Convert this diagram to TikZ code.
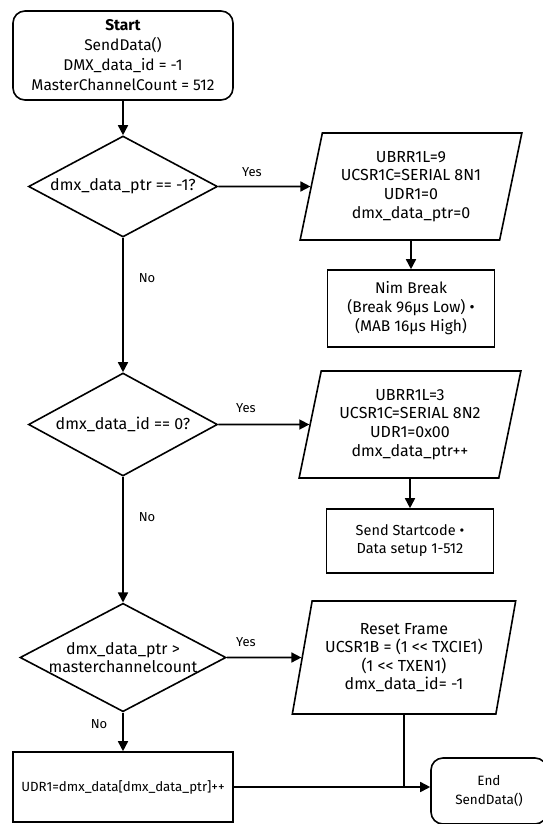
\documentclass[tikz,border=0pt]{standalone}
\usepackage{fontspec}
\setmainfont{Fira Sans}
\usetikzlibrary{shapes.geometric,arrows.meta}
\begin{document}
\begin{tikzpicture}[x=1pt,y=-1pt,
  box/.style={draw, line width=1.6pt, align=center, inner sep=0pt},
  fsz/.style 2 args={font=\fontsize{#1}{#2}\selectfont},
  term/.style={box, rounded corners=12pt},
  dec/.style={box, diamond, aspect=1.9},
  io/.style={box, trapezium, trapezium left angle=76, trapezium right angle=104, trapezium stretches=true},
  arr/.style={line width=1.6pt, -{Triangle[length=10pt,width=10pt]}},
  conn/.style={line width=1.6pt},
  lbl/.style={fsz={13}{16}}]
\useasboundingbox (0,0) rectangle (543,824);
\clip (0,0) rectangle (543,824);
\node[term, fsz={15.5}{20}, minimum width=220, minimum height=89] (start) at (123,55.5) {\textbf{Start}\\SendData()\\DMX\_data\_id = -1\\MasterChannelCount = 512};
\node[dec, fsz={16}{18.5}, minimum width=189, minimum height=101] (d1) at (123,186.5) {dmx\_data\_ptr == -1?};
\node[io, fsz={16}{18.7}, minimum width=222, minimum height=107] (p1) at (411,186.5) {UBRR1L=9\\UCSR1C=SERIAL 8N1\\UDR1=0\\dmx\_data\_ptr=0};
\node[box, fsz={15.5}{19}, minimum width=167, minimum height=77] (nim) at (411,308.5) {Nim Break\\(Break 96µs Low) •\\(MAB 16µs High)};
\node[dec, fsz={16}{18.5}, minimum width=189, minimum height=103] (d2) at (123,424.5) {dmx\_data\_id == 0?};
\node[io, fsz={16}{18.7}, minimum width=222, minimum height=107] (p2) at (410,424.5) {UBRR1L=3\\UCSR1C=SERIAL 8N2\\UDR1=0x00\\dmx\_data\_ptr++};
\node[box, fsz={14.5}{18}, minimum width=167, minimum height=64] (ss) at (410,541) {Send Startcode •\\Data setup 1-512};
\node[dec, fsz={16}{18}, minimum width=202, minimum height=108] (d3) at (123,657.5) {dmx\_data\_ptr >\\masterchannelcount};
\node[io, fsz={16}{18.3}, minimum width=224, minimum height=113] (p3) at (404,657.5) {Reset Frame\\UCSR1B = (1 <\kern0pt< TXCIE1)\\(1 <\kern0pt< TXEN1)\\dmx\_data\_id= -1};
\node[box, fsz={13.3}{16}, minimum width=220, minimum height=70] (udr) at (123,787) {UDR1=dmx\_data[dmx\_data\_ptr]++};
\node[term, fsz={13.5}{19}, minimum width=116, minimum height=66] (end) at (489,791) {End\\SendData()};
\node[lbl] (y1) at (252,172) {Yes};
\node[lbl] (n1) at (147,278) {No};
\node[lbl] (y2) at (246,408) {Yes};
\node[lbl] (n2) at (147,517) {No};
\node[lbl] (y3) at (246,642) {Yes};
\node[lbl] (n3) at (99,724) {No};
\draw[arr] (start) -- (d1);
\draw[arr] (d1) -- (p1);
\draw[arr] (p1) -- (nim);
\draw[arr] (d1) -- (d2);
\draw[arr] (d2) -- (p2);
\draw[arr] (p2) -- (ss);
\draw[arr] (d2) -- (d3);
\draw[arr] (d3) -- (p3);
\draw[arr] (d3) -- (udr);
\coordinate (join) at (p3.south |- udr.east);
\draw[arr] (udr.east) -- (udr.east -| end.west);
\draw[conn] (p3.south) -- (join);
\end{tikzpicture}
\end{document}
